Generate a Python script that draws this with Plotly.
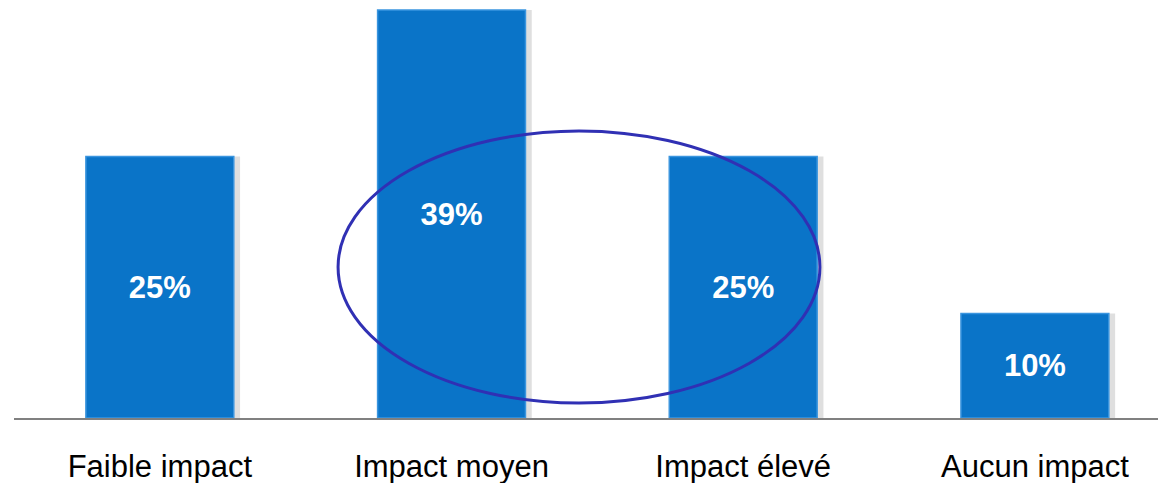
import plotly.graph_objects as go

categories = ["Faible impact", "Impact moyen", "Impact élevé", "Aucun impact"]
values = [25, 39, 25, 10]
value_labels = ["25%", "39%", "25%", "10%"]

# ellipse highlight (data coordinates)
ellipse_x = [0.611, 2.263]
ellipse_y = [1.43, 27.44]

fig = go.Figure()

# soft shadow behind bars
fig.add_trace(go.Bar(
    x=categories, y=values, width=0.53, offset=-0.255,
    marker=dict(color="rgba(150,150,150,0.30)", line=dict(width=0)),
    hoverinfo="skip", showlegend=False,
))
fig.add_trace(go.Bar(
    x=categories, y=values, width=0.507, offset=-0.2535,
    marker=dict(color="#0A74C8", line=dict(color="#3A95DF", width=1.5)),
    text=value_labels, textposition="inside", insidetextanchor="middle",
    textfont=dict(family="Liberation Sans, Arial, sans-serif", size=31, color="white"),
    texttemplate="<b>%{text}</b>",
    showlegend=False,
))

fig.add_shape(type="circle", xref="x", yref="y",
              x0=ellipse_x[0], x1=ellipse_x[1], y0=ellipse_y[0], y1=ellipse_y[1],
              line=dict(color="#3030B4", width=3), layer="above")

fig.update_layout(
    width=1158, height=483,
    margin=dict(l=14, r=0, t=0, b=65),
    paper_bgcolor="white", plot_bgcolor="white",
    barmode="overlay",
    xaxis=dict(range=[-0.5, 3.422], showgrid=False, zeroline=False,
               showline=True, linecolor="#808080", linewidth=2,
               ticks="outside", ticklen=20, tickcolor="rgba(0,0,0,0)",
               tickfont=dict(family="Liberation Sans, Arial, sans-serif", size=31, color="black")),
    yaxis=dict(range=[0, 39.96], visible=False),
    font=dict(family="Liberation Sans, Arial, sans-serif"),
)

fig.write_html("out.html", config={"displayModeBar": False},
               post_script="document.body.style.margin='0';document.body.style.overflow='hidden';")
